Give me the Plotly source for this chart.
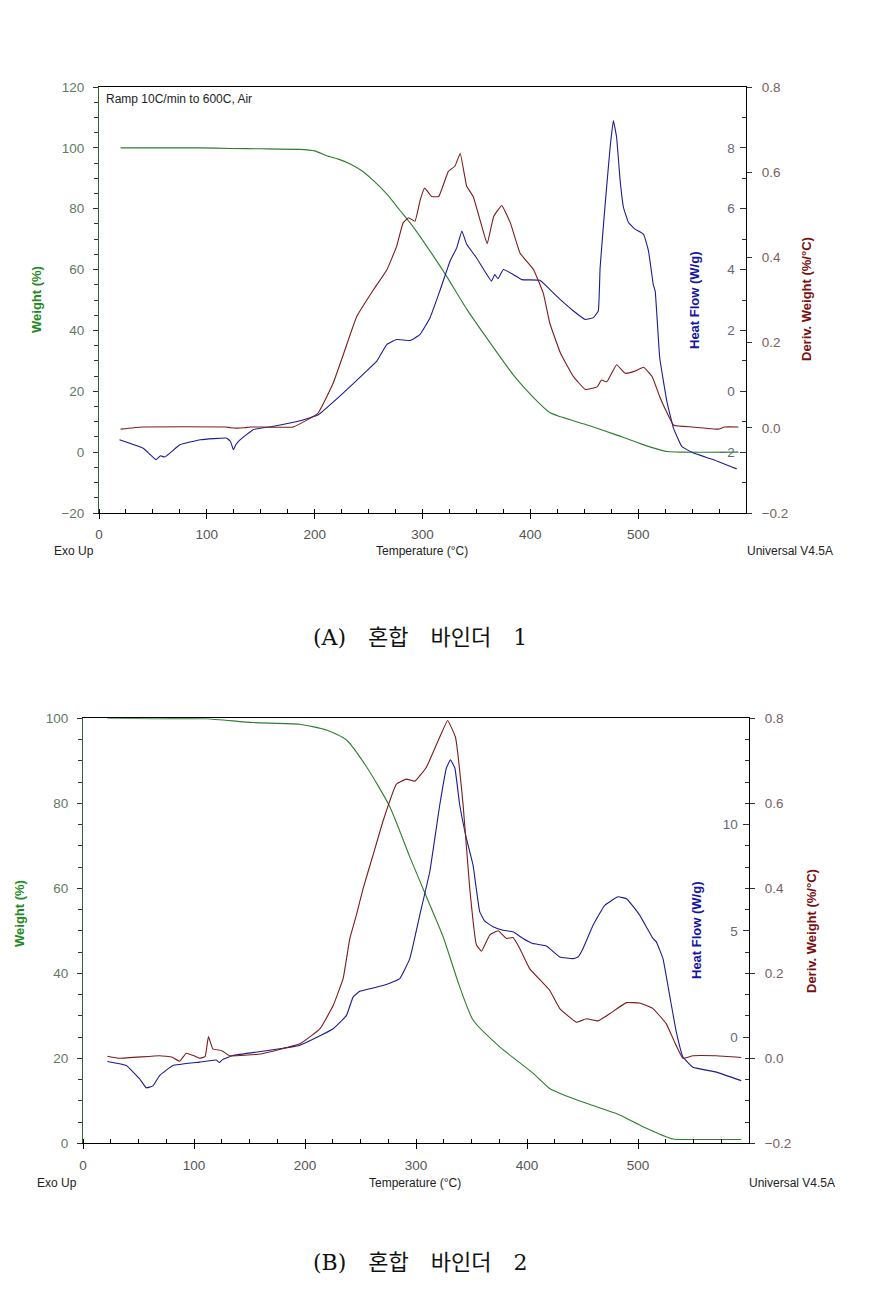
import plotly.graph_objects as go

# ---- (A) 혼합 바인더 1 ----
a_weight_t = [20, 94, 123, 150, 186, 200, 211, 222, 233, 244, 254, 267, 279, 291, 310, 322, 341, 360,
              384, 403, 418, 428, 455, 477, 502, 518, 527, 540, 593]
a_weight = [100, 100, 99.8, 99.7, 99.5, 99, 97.4, 96.3, 94.7, 92.4, 89.4, 84.8, 79.5, 74.2, 64.5, 58, 47,
            37.3, 25.5, 17.9, 13, 11.6, 8.7, 6.0, 2.8, 1.0, 0.2, 0, 0]

a_deriv_t = [20, 40, 118, 122, 135, 140, 180, 203, 217, 227, 239, 254.5, 267, 276, 282, 287, 293, 298, 302,
             308.5, 315, 324, 330, 335, 341, 347, 355, 360, 366, 373.5, 381.5, 390.5, 403, 412, 418, 428,
             440, 451, 462, 466, 471, 480, 488, 497, 505, 513, 520, 527, 533, 550, 575, 580, 593]
a_deriv = [-0.003, 0.002, 0.002, 0.0, 0.0, 0.002, 0.002, 0.034, 0.104, 0.175, 0.261, 0.324, 0.371, 0.426,
           0.481, 0.493, 0.485, 0.536, 0.563, 0.543, 0.543, 0.602, 0.614, 0.644, 0.567, 0.543, 0.473, 0.432,
           0.496, 0.522, 0.481, 0.41, 0.371, 0.316, 0.246, 0.175, 0.12, 0.09, 0.096, 0.112, 0.108, 0.148,
           0.128, 0.133, 0.142, 0.12, 0.073, 0.034, 0.006, 0.002, -0.003, 0.002, 0.002]

a_heat_t = [19, 41, 53, 57, 61, 75, 94, 118.5, 122, 124.6, 127, 131, 143, 162, 186.5, 203.4, 226.6, 248,
            257.6, 267, 276, 288.6, 297.8, 307, 316, 325.6, 331.8, 336.5, 341, 350, 359.6, 364, 367, 370,
            375, 384, 392, 409, 418, 427.6, 440, 451, 458.5, 463, 464.7, 469.4, 474, 477, 480, 483.3,
            486.4, 491, 497, 505, 509.6, 514, 515.8, 520, 526.6, 532.7, 540.4, 551.3, 570, 591.4]
a_heat = [-1.59, -1.87, -2.25, -2.12, -2.16, -1.76, -1.59, -1.54, -1.65, -1.92, -1.75, -1.59, -1.26, -1.15,
          -0.97, -0.77, -0.05, 0.66, 0.99, 1.54, 1.70, 1.67, 1.87, 2.42, 3.29, 4.28, 4.72, 5.27, 4.83,
          4.39, 3.84, 3.62, 3.84, 3.7, 4.0, 3.84, 3.67, 3.65, 3.35, 3.02, 2.64, 2.36, 2.42, 2.64, 4.06,
          6.15, 8.02, 8.9, 8.35, 6.92, 6.04, 5.55, 5.33, 5.16, 4.61, 3.51, 3.29, 1.1, -0.33, -1.21, -1.81,
          -2.03, -2.25, -2.55]

# ---- (B) 혼합 바인더 2 ----
b_weight_t = [22, 66, 111, 153, 195, 220, 237.4, 255.4, 276.4, 294.4, 309.4, 324.4, 339.4, 351.4, 375.4,
              405.4, 420.4, 429.5, 453.5, 483.5, 504.5, 531.5, 540, 593]
b_weight = [100, 99.9, 99.9, 99, 98.6, 97.2, 94.9, 88.6, 79.2, 67.4, 58, 48.6, 36.8, 29, 22.7, 16.5, 12.9,
            11.8, 9.4, 6.66, 3.9, 1.0, 0.9, 0.9]

b_deriv_t = [22, 33, 69, 80, 87, 93, 100, 105, 110, 113, 117, 125, 132, 160, 195.4, 213.4, 225.4, 234.4,
             240.4, 246.4, 252.4, 261.4, 270.4, 282.4, 291.4, 299, 309.4, 321.4, 328.5, 335.5, 342.4,
             348.4, 354.4, 359, 366.4, 374, 381.4, 387.4, 393.4, 402.4, 420.4, 429.5, 444.5, 453.5, 464,
             474.5, 489.5, 501.5, 513.5, 525.5, 533, 540.5, 549.5, 570.5, 593]
b_deriv = [0.005, 0.0, 0.006, 0.003, -0.007, 0.012, 0.006, 0.0, 0.004, 0.051, 0.022, 0.018, 0.006, 0.01,
           0.034, 0.069, 0.124, 0.188, 0.282, 0.338, 0.40, 0.479, 0.559, 0.645, 0.657, 0.652, 0.685, 0.756,
           0.795, 0.756, 0.598, 0.40, 0.267, 0.252, 0.29, 0.30, 0.282, 0.284, 0.259, 0.211, 0.16, 0.117,
           0.085, 0.093, 0.088, 0.105, 0.131, 0.13, 0.117, 0.081, 0.038, 0.0, 0.006, 0.006, 0.002]

b_heat_t = [22, 39, 51, 57, 63, 69, 81, 105, 120, 123, 126, 135, 195, 225.4, 237.4, 243.4, 249.4, 261.4,
            273.4, 285.4, 294.4, 303.4, 312.4, 321.4, 327.4, 331, 335, 339.4, 345.4, 351.4, 357.4, 362,
            369.4, 378.4, 387.4, 396.4, 405.4, 417.5, 429.5, 441.5, 446, 450.5, 459.5, 470, 482, 490,
            501.5, 513.5, 516.5, 522.5, 528.5, 534.5, 540.5, 549.5, 570.5, 593]
b_heat = [-1.15, -1.34, -1.97, -2.39, -2.3, -1.81, -1.34, -1.18, -1.08, -1.2, -1.05, -0.87, -0.4, 0.39,
          1.02, 1.89, 2.15, 2.31, 2.47, 2.75, 3.69, 5.74, 7.78, 10.92, 12.66, 13.05, 12.66, 10.92, 9.35,
          8.09, 5.90, 5.45, 5.19, 5.03, 4.95, 4.64, 4.40, 4.29, 3.77, 3.69, 3.77, 4.17, 5.26, 6.2, 6.6,
          6.5, 5.74, 4.64, 4.48, 3.69, 1.96, 0.24, -0.94, -1.42, -1.65, -2.05]

W, H = 869, 1310
OFF = 8  # the page body adds an 8px margin around the figure
GREEN_LINE = "#2f7d2f"
BLUE_LINE = "#1c1c8c"
RED_LINE = "#7a1c1c"
FONT = "Liberation Sans, Arial, sans-serif"


def px(x, y):
    # screen pixel position -> paper coordinates
    return (x - OFF) / W, 1 - (y - OFF) / H


def dom_x(a, b):
    return [(a - OFF) / W, (b - OFF) / W]


def dom_y(top, bottom):
    return [1 - (bottom - OFF) / H, 1 - (top - OFF) / H]


fig = go.Figure()

panels = [
    ("x", "y", "y2", "y3", a_weight_t, a_weight, a_heat_t, a_heat, a_deriv_t, a_deriv),
    ("x2", "y4", "y5", "y6", b_weight_t, b_weight, b_heat_t, b_heat, b_deriv_t, b_deriv),
]
for xa, yw, yh, yd, wt, wv, ht, hv, dt, dv in panels:
    fig.add_trace(go.Scatter(x=wt, y=wv, xaxis=xa, yaxis=yw, mode="lines",
                             line=dict(color=GREEN_LINE, width=1.1, shape="spline", smoothing=0.6),
                             showlegend=False))
    fig.add_trace(go.Scatter(x=dt, y=dv, xaxis=xa, yaxis=yd, mode="lines",
                             line=dict(color=RED_LINE, width=1.1, shape="spline", smoothing=0.3),
                             showlegend=False))
    fig.add_trace(go.Scatter(x=ht, y=hv, xaxis=xa, yaxis=yh, mode="lines",
                             line=dict(color=BLUE_LINE, width=1.1, shape="spline", smoothing=0.3),
                             showlegend=False))

tickfont = dict(family=FONT, size=13.5)


def x_axis(domain, anchor):
    return dict(domain=domain, anchor=anchor, range=[0, 600], dtick=100, tick0=0, automargin=False,
                showline=True, linecolor="black", linewidth=1, mirror=True,
                ticks="outside", ticklen=5, tickcolor="black",
                minor=dict(dtick=25, ticks="inside", ticklen=4, tickcolor="black"),
                tickfont=dict(tickfont, color="#555555"), showgrid=False, zeroline=False,
                ticklabelstandoff=4)


def weight_axis(domain, anchor, rng):
    return dict(domain=domain, anchor=anchor, range=rng, dtick=20, side="left", automargin=False,
                showline=True, linecolor="#2c6a2c", linewidth=1,
                ticks="outside", ticklen=5, tickcolor="#333333",
                minor=dict(dtick=5, ticks="outside", ticklen=4, tickcolor="#333333"),
                tickfont=dict(tickfont, color="#5f7a5f"), showgrid=False, zeroline=False,
                ticklabelstandoff=6)


def heat_axis(overlay, anchor, rng, dtick):
    return dict(overlaying=overlay, anchor=anchor, side="right", range=rng, dtick=dtick,
                automargin=False, showline=False, ticks="inside", ticklen=6, tickcolor="#333333",
                ticklabelposition="inside",
                minor=dict(dtick=1, ticks="inside", ticklen=4, tickcolor="#333333"),
                tickfont=dict(tickfont, color="#66667a"), showgrid=False, zeroline=False,
                ticklabelstandoff=5)


def deriv_axis(overlay, anchor):
    return dict(overlaying=overlay, anchor=anchor, side="right", range=[-0.2, 0.8], dtick=0.2,
                automargin=False, tickformat=".1f", showline=True, linecolor="black", linewidth=1,
                ticks="outside", ticklen=5, tickcolor="#333333",
                tickfont=dict(tickfont, color="#7a6060"), showgrid=False, zeroline=False,
                ticklabelstandoff=7)


fig.update_layout(
    width=W, height=H,
    margin=dict(l=0, r=0, t=0, b=0, pad=0),
    paper_bgcolor="white", plot_bgcolor="white",
    xaxis=x_axis(dom_x(99, 746), "y"),
    yaxis=weight_axis(dom_y(87, 513), "x", [-20, 120]),
    yaxis2=heat_axis("y", "x", [-4, 10], 2),
    yaxis3=deriv_axis("y", "x"),
    xaxis2=x_axis(dom_x(83, 749), "y4"),
    yaxis4=weight_axis(dom_y(718.3, 1143.3), "x2", [0, 100]),
    yaxis5=heat_axis("y4", "x2", [-5, 15], 5),
    yaxis6=deriv_axis("y4", "x2"),
)

annotations = []


def label(x, y, text, size=12, color="#222222", bold=False, angle=0, xanchor="center", family=FONT):
    ax, ay = px(x, y)
    if bold:
        text = "<b>" + text + "</b>"
    annotations.append(dict(x=ax, y=ay, xref="paper", yref="paper", text=text, showarrow=False,
                            textangle=angle, xanchor=xanchor, yanchor="middle",
                            font=dict(family=family, size=size, color=color)))


# panel A texts
label(104, 99, "Ramp 10C/min to 600C, Air", xanchor="left")
label(37, 299, "Weight (%)", size=13, color="#1f8a1f", bold=True, angle=-90)
label(694, 300, "Heat Flow (W/g)", size=13, color="#1515a5", bold=True, angle=-90)
label(807, 299, "Deriv. Weight (%/°C)", size=13, color="#7a0f0f", bold=True, angle=-90)
label(52, 551, "Exo Up", xanchor="left")
label(422, 551, "Temperature (°C)")
label(835, 551, "Universal V4.5A", xanchor="right")

# panel B texts
label(19, 914, "Weight (%)", size=13, color="#1f8a1f", bold=True, angle=-90)
label(696, 930, "Heat Flow (W/g)", size=13, color="#1515a5", bold=True, angle=-90)
label(811, 931, "Deriv. Weight (%/°C)", size=13, color="#7a0f0f", bold=True, angle=-90)
label(35, 1183, "Exo Up", xanchor="left")
label(415, 1183, "Temperature (°C)")
label(747, 1183, "Universal V4.5A", xanchor="left")

# captions (serif latin, Korean falls back to the CJK font)
CAPTION_FONT = "DejaVu Serif, Noto Sans CJK KR, serif"
SP = "\u3000"
label(420, 637, "(A)" + SP + "혼합" + SP + "바인더" + SP + "1", size=22, color="#111111", family=CAPTION_FONT)
label(420, 1262, "(B)" + SP + "혼합" + SP + "바인더" + SP + "2", size=22, color="#111111", family=CAPTION_FONT)

fig.update_layout(annotations=annotations)

fig.write_html("out.html")
